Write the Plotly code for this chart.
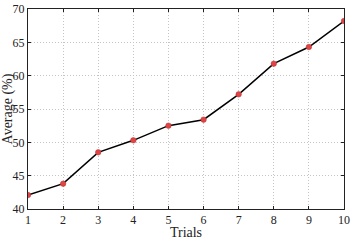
import plotly.graph_objects as go

trials = [1, 2, 3, 4, 5, 6, 7, 8, 9, 10]
average = [42.1, 43.8, 48.5, 50.3, 52.5, 53.4, 57.2, 61.8, 64.3, 68.2]
x_ticks = [1, 2, 3, 4, 5, 6, 7, 8, 9, 10]
y_ticks = [40, 45, 50, 55, 60, 65, 70]

FONT = "Times New Roman, Liberation Serif, serif"

fig = go.Figure()
fig.add_trace(go.Scatter(
    x=trials, y=average, mode="lines+markers",
    line=dict(color="black", width=1.5),
    marker=dict(color="#e04545", size=5.5, line=dict(color="#b03030", width=0.5)),
))

axis_common = dict(
    showline=True, linecolor="#222", linewidth=1, mirror="ticks",
    ticks="inside", ticklen=3, tickcolor="#222",
    showgrid=True, gridcolor="#c4c4c4", griddash="1px,2px", gridwidth=1,
    zeroline=False, ticklabeloverflow="allow",
    tickfont=dict(family=FONT, size=12, color="#222"),
)

fig.update_layout(
    width=352, height=240,
    margin=dict(l=25, r=6, t=2, b=28),
    paper_bgcolor="white", plot_bgcolor="white",
    showlegend=False,
    font=dict(family=FONT, color="#222"),
    xaxis=dict(range=[1, 10], tickvals=x_ticks,
               title=dict(text="Trials", font=dict(size=14), standoff=1),
               **axis_common),
    yaxis=dict(range=[40, 70], tickvals=y_ticks,
               title=dict(text="Average (%)", font=dict(size=14), standoff=1),
               **axis_common),
)

fig.write_html("out.html")
